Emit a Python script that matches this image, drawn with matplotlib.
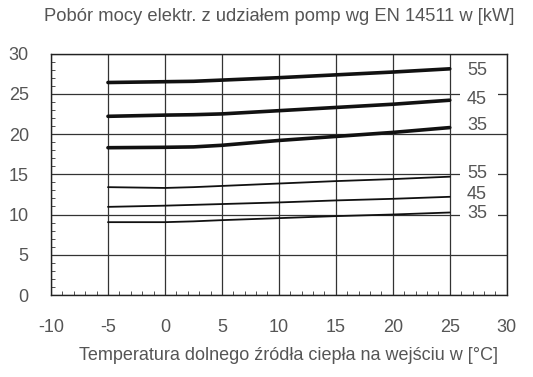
import matplotlib
matplotlib.use("Agg")
import matplotlib.pyplot as plt
from matplotlib.ticker import MultipleLocator
from matplotlib.patches import Rectangle

x = [-5, 0, 2.5, 5, 10, 15, 20, 25]
thick_55 = [26.4, 26.5, 26.55, 26.7, 27.0, 27.35, 27.7, 28.1]
thick_45 = [22.2, 22.35, 22.4, 22.5, 22.9, 23.3, 23.7, 24.2]
thick_35 = [18.3, 18.35, 18.4, 18.6, 19.2, 19.7, 20.2, 20.8]
thin_55 = [13.4, 13.3, 13.4, 13.55, 13.85, 14.15, 14.4, 14.7]
thin_45 = [10.95, 11.1, 11.2, 11.3, 11.5, 11.75, 11.95, 12.2]
thin_35 = [9.05, 9.05, 9.15, 9.3, 9.55, 9.8, 10.0, 10.25]

label_x = 26.5
labels_thick = [("55", 27.95), ("45", 24.3), ("35", 21.1)]
labels_thin = [("55", 15.1), ("45", 12.5), ("35", 10.15)]

title = "Pobór mocy elektr. z udziałem pomp wg EN 14511 w [kW]"
xlabel = "Temperatura dolnego źródła ciepła na wejściu w [°C]"

plt.rcParams['font.family'] = ['Liberation Sans', 'DejaVu Sans']
plt.rcParams['axes.unicode_minus'] = False
fig = plt.figure(figsize=(5.33, 3.77), dpi=100)
ax = fig.add_axes([0.0957, 0.2175, 0.855, 0.6405])

ax.set_xlim(-10, 30)
ax.set_ylim(0, 30)
ax.xaxis.set_major_locator(MultipleLocator(5))
ax.yaxis.set_major_locator(MultipleLocator(5))
ax.xaxis.set_minor_locator(MultipleLocator(1))
ax.yaxis.set_minor_locator(MultipleLocator(1))
ax.grid(True, which='major', color='#333333', linewidth=0.9)
ax.set_axisbelow(True)
ax.tick_params(which='major', length=0, labelsize=13, labelcolor='#555555')
ax.tick_params(axis='x', which='major', pad=17)
ax.tick_params(axis='y', which='major', pad=16)
ax.tick_params(which='minor', direction='in', length=3, width=0.6, color='#333333')
for s in ax.spines.values():
    s.set_color('#222222')
    s.set_linewidth(1.0)
    s.set_zorder(5)

for ys in (thick_55, thick_45, thick_35):
    ax.plot(x, ys, color='#111111', linewidth=2.6, solid_capstyle='round', zorder=3)
for ys in (thin_55, thin_45, thin_35):
    ax.plot(x, ys, color='#111111', linewidth=1.3, solid_capstyle='round', zorder=3)

for txt, yy in labels_thick + labels_thin:
    ax.add_patch(Rectangle((label_x - 0.6, yy - 0.85), 3.3, 1.7,
                           facecolor='white', edgecolor='none', zorder=2))
    ax.text(label_x, yy, txt, ha='left', va='center', fontsize=13, color='#555555', zorder=4)

fig.text(0.523, 0.955, title, ha='center', va='center', fontsize=13.2, color='#555555')
fig.text(0.542, 0.058, xlabel, ha='center', va='center', fontsize=13, color='#555555')

fig.savefig("out.png", dpi=100)
